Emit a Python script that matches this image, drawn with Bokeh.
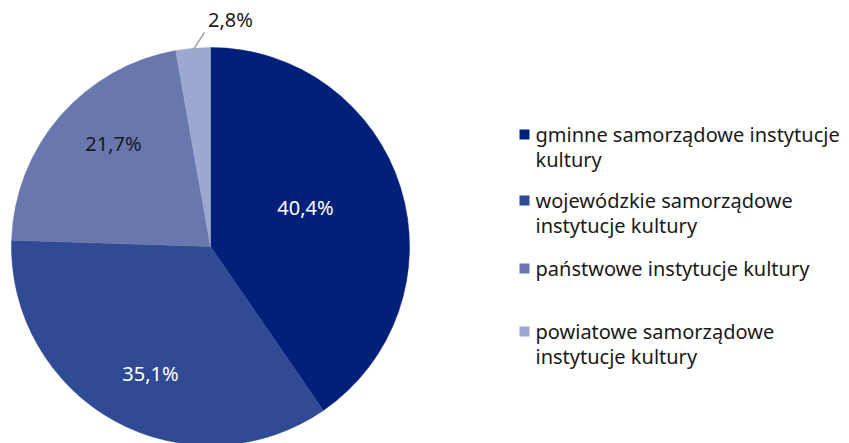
import math
from bokeh.plotting import figure
from bokeh.models import Range1d
from bokeh.core.properties import value
from bokeh.embed import file_html
from bokeh.resources import INLINE

categories = ["gminne samorządowe instytucje kultury",
              "wojewódzkie samorządowe instytucje kultury",
              "państwowe instytucje kultury",
              "powiatowe samorządowe instytucje kultury"]
shares = [40.4, 35.1, 21.7, 2.8]
pct_labels = ["40,4%", "35,1%", "21,7%", "2,8%"]
legend_lines = [["gminne samorządowe instytucje", "kultury"],
                ["wojewódzkie samorządowe", "instytucje kultury"],
                ["państwowe instytucje kultury"],
                ["powiatowe samorządowe", "instytucje kultury"]]

colors = ["#00207a", "#304a94", "#6878ae", "#9ca8cf"]
label_colors = ["white", "white", "#1a1a1a", "#1a1a1a"]
FONT = value("Noto Sans")

W, H = 849, 443
p = figure(width=W, height=H, output_backend="svg", toolbar_location=None,
           x_range=Range1d(0, W), y_range=Range1d(-H, 0),
           min_border=0)
p.axis.visible = False
p.grid.visible = False
p.outline_line_color = None
p.background_fill_color = "white"
p.border_fill_color = "white"

cx, cy, R = 210, -246, 199
total = sum(shares)
start = math.pi / 2
starts, ends = [], []
for s in shares:
    e = start - s / total * 2 * math.pi
    starts.append(start)
    ends.append(e)
    start = e
p.wedge(x=[cx] * 4, y=[cy] * 4, radius=R, start_angle=ends, end_angle=starts,
        fill_color=colors, line_color=colors, line_width=0.5)

# percentage labels
label_pos = [(305, -207), (150, -373), (113, -143), (230, -19)]
for (lx, ly), t, c in zip(label_pos, pct_labels, label_colors):
    p.text(x=[lx], y=[ly], text=[t], text_color=c, text_font=FONT,
           text_font_size="20px", text_align="center", text_baseline="middle")
# leader line for small slice
p.line(x=[193, 204], y=[-49, -32], line_color="#a6a6a6", line_width=1.5)

# legend
leg_y = [134, 200, 268, 331]
for i, (lines, y0) in enumerate(zip(legend_lines, leg_y)):
    p.rect(x=[524], y=[-y0], width=10, height=10, fill_color=colors[i], line_color=None)
    for j, ln in enumerate(lines):
        p.text(x=[535], y=[-(y0 + j * 25)], text=[ln], text_color="#1a1a1a",
               text_font=FONT, text_font_size="20px", text_align="left",
               text_baseline="middle")

open("out.html", "w").write(file_html(p, INLINE))
